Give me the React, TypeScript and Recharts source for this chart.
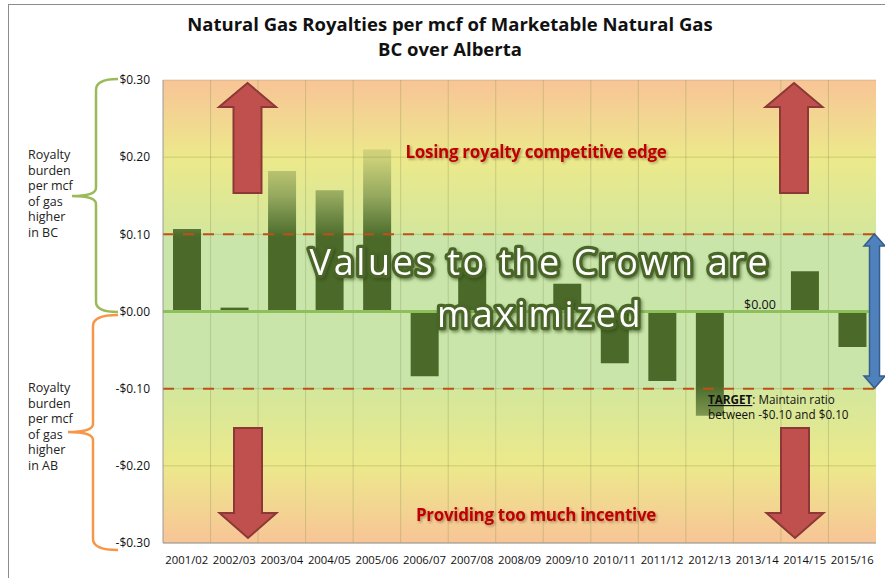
import React from 'react';
import {
  BarChart,
  Bar,
  XAxis,
  YAxis,
  CartesianGrid,
  ReferenceLine,
} from 'recharts';

const categories = [
  '2001/02', '2002/03', '2003/04', '2004/05', '2005/06', '2006/07', '2007/08', '2008/09',
  '2009/10', '2010/11', '2011/12', '2012/13', '2013/14', '2014/15', '2015/16',
];
const royaltyDiff = [
  0.107, 0.005, 0.182, 0.157, 0.21, -0.084, 0.057, 0, 0.036, -0.067, -0.09, -0.135, 0, 0.052, -0.046,
];
const yTicks = [-0.3, -0.2, -0.1, 0, 0.1, 0.2, 0.3];
const targetBand = [-0.1, 0.1];

const titleLines = ['Natural Gas Royalties per mcf of Marketable Natural Gas', 'BC over Alberta'];
const bcNote = ['Royalty', 'burden', 'per mcf', 'of gas', 'higher', 'in BC'];
const abNote = ['Royalty', 'burden', 'per mcf', 'of gas', 'higher', 'in AB'];

const data = categories.map((c, i) => ({ year: c, value: royaltyDiff[i] }));

const W = 885;
const H = 578;
const PLOT_TOP = 80;
const PLOT_BOTTOM = 543;
const FONT = '"Open Sans", "Noto Sans", sans-serif';

const fmt = (v: number) => (v < 0 ? '-$' : '$') + Math.abs(v).toFixed(2);

const upArrow = (cx: number, tip: number, headBase: number, bottom: number, hw: number, sw: number) =>
  `${cx},${tip} ${cx + hw},${headBase} ${cx + sw},${headBase} ${cx + sw},${bottom} ${cx - sw},${bottom} ${cx - sw},${headBase} ${cx - hw},${headBase}`;
const downArrow = (cx: number, top: number, headBase: number, tip: number, hw: number, sw: number) =>
  `${cx - sw},${top} ${cx + sw},${top} ${cx + sw},${headBase} ${cx + hw},${headBase} ${cx},${tip} ${cx - hw},${headBase} ${cx - sw},${headBase}`;

const Overlay = () => (
  <svg
    width={W}
    height={H}
    style={{ position: 'absolute', left: 0, top: 0, pointerEvents: 'none' }}
  >
    <defs>
      <filter id="redShadow" x="-10%" y="-40%" width="120%" height="180%">
        <feDropShadow dx="1.5" dy="1.5" stdDeviation="0.8" floodColor="#3c2814" floodOpacity="0.4" />
      </filter>
      <filter id="greenShadow" x="-10%" y="-30%" width="120%" height="160%">
        <feDropShadow dx="1.5" dy="2" stdDeviation="1.5" floodColor="#283c14" floodOpacity="0.55" />
      </filter>
    </defs>

    {/* frame */}
    <line x1={8.5} y1={4} x2={8.5} y2={H} stroke="#8c8c8c" strokeWidth={1} />
    <line x1={8} y1={4.5} x2={W} y2={4.5} stroke="#8c8c8c" strokeWidth={1} />

    {/* title */}
    {titleLines.map((t, i) => (
      <text key={t} x={450} y={31 + i * 25} textAnchor="middle" fontFamily={FONT} fontWeight={700} fontSize={18.5} fill="#111">
        {t}
      </text>
    ))}

    {/* braces */}
    <path
      d="M118,79 Q96,79 96,90 L96,188 Q96,196 72,196 Q96,196 96,204 L96,302 Q96,312 118,312"
      fill="none"
      stroke="#9bbb59"
      strokeWidth={2.5}
    />
    <path
      d="M118,315 Q93,315 93,326 L93,424 Q93,432 68,432 Q93,432 93,440 L93,539 Q93,550 118,550"
      fill="none"
      stroke="#f79646"
      strokeWidth={2.5}
    />
    {bcNote.map((t, i) => (
      <text key={'bc' + i} x={28} y={159 + i * 15.5} fontFamily={FONT} fontSize={12.5} fill="#222">
        {t}
      </text>
    ))}
    {abNote.map((t, i) => (
      <text key={'ab' + i} x={28} y={392 + i * 15.5} fontFamily={FONT} fontSize={12.5} fill="#222">
        {t}
      </text>
    ))}

    {/* red arrows */}
    <g fill="#c0504d" stroke="#8c3836" strokeWidth={2} strokeLinejoin="miter">
      <polygon points={upArrow(247.5, 83, 107, 193, 28.5, 14)} />
      <polygon points={upArrow(794, 83, 107, 193, 28.5, 14)} />
      <polygon points={downArrow(248, 428, 513, 538, 28.5, 14)} />
      <polygon points={downArrow(795, 428, 513, 538, 28.5, 14)} />
    </g>

    {/* blue double arrow */}
    <polygon
      points="874.5,234 885,246 879.5,246 879.5,376 885,376 874.5,388 864,376 869.5,376 869.5,246 864,246"
      fill="#4f81bd"
      stroke="#385d8a"
      strokeWidth={1.5}
    />

    {/* red captions */}
    {[
      { t: 'Losing royalty competitive edge', y: 158 },
      { t: 'Providing too much incentive', y: 521 },
    ].map((c) => (
      <text
        key={c.t}
        x={536}
        y={c.y}
        fontFamily={FONT}
        fontWeight={700}
        fontSize={17}
        textAnchor="middle"
        letterSpacing={-0.3}
        fill="#c00000"
        filter="url(#redShadow)"
      >
        {c.t}
      </text>
    ))}

    {/* big outlined text */}
    {[
      { t: 'Values to the Crown are', y: 275 },
      { t: 'maximized', y: 327 },
    ].map((c) => (
      <text
        key={c.t}
        x={540}
        y={c.y}
        fontFamily={FONT}
        fontSize={36}
        textAnchor="middle"
        letterSpacing={2.6}
        fill="#ffffff"
        stroke="#4a6628"
        strokeWidth={6.5}
        strokeLinejoin="round"
        style={{ paintOrder: 'stroke' }}
        filter="url(#greenShadow)"
      >
        {c.t}
      </text>
    ))}

    {/* $0.00 label */}
    <text x={744} y={309} fontFamily={FONT} fontSize={12.5} fill="#111">$0.00</text>

    {/* target note */}
    <text x={708} y={404} fontFamily={FONT} fontSize={11.7} fill="#111">
      <tspan fontWeight={700} textDecoration="underline">TARGET</tspan>
      <tspan>: Maintain ratio</tspan>
    </text>
    <text x={708} y={419} fontFamily={FONT} fontSize={11.7} fill="#111">between -$0.10 and $0.10</text>
  </svg>
);

export default function App() {
  return (
    <div style={{ position: 'absolute', left: 0, top: 0, width: W, height: H, background: '#fff' }}>
      <BarChart
        width={W}
        height={H}
        data={data}
        margin={{ top: PLOT_TOP, right: 9, bottom: 5, left: 103 }}
        barSize={28}
      >
        <defs>
          <linearGradient id="bgGrad" x1="0" y1="0" x2="0" y2="1">
            <stop offset="0" stopColor="#f8c497" />
            <stop offset="0.17" stopColor="#ece98b" />
            <stop offset="0.333" stopColor="#d3e79c" />
            <stop offset="0.333" stopColor="#c9e5aa" />
            <stop offset="0.667" stopColor="#c9e5aa" />
            <stop offset="0.667" stopColor="#d3e79c" />
            <stop offset="0.83" stopColor="#ece98b" />
            <stop offset="1" stopColor="#f8c497" />
          </linearGradient>
          <linearGradient
            id="barGrad"
            gradientUnits="userSpaceOnUse"
            x1="0"
            y1={PLOT_TOP}
            x2="0"
            y2={PLOT_BOTTOM}
          >
            <stop offset="0.05" stopColor="#4b6a29" stopOpacity={0.05} />
            <stop offset="0.17" stopColor="#4b6a29" stopOpacity={0.2} />
            <stop offset="0.25" stopColor="#4b6a29" stopOpacity={0.5} />
            <stop offset="0.34" stopColor="#4b6a29" stopOpacity={1} />
            <stop offset="0.66" stopColor="#4b6a29" stopOpacity={1} />
            <stop offset="0.75" stopColor="#4b6a29" stopOpacity={0.5} />
            <stop offset="0.83" stopColor="#4b6a29" stopOpacity={0.2} />
            <stop offset="0.95" stopColor="#4b6a29" stopOpacity={0.05} />
          </linearGradient>
        </defs>
        <CartesianGrid
          fill="url(#bgGrad)"
          fillOpacity={1}
          stroke="rgba(140,150,90,0.35)"
          verticalCoordinatesGenerator={({ offset }: any) =>
            categories.slice(1).map((_, i) => offset.left + ((i + 1) * offset.width) / categories.length)
          }
        />
        <XAxis
          dataKey="year"
          tickLine={false}
          axisLine={{ stroke: '#9a9a9a' }}
          tick={{ fontFamily: FONT, fontSize: 11.3, fill: '#111' }}
          tickSize={6}
          tickMargin={7}
          interval={0}
          height={30}
        />
        <YAxis
          domain={[-0.3, 0.3]}
          ticks={yTicks}
          tickFormatter={fmt}
          tickLine={false}
          axisLine={{ stroke: '#9a9a9a' }}
          tick={{ fontFamily: FONT, fontSize: 12, fill: '#111' }}
          tickSize={6}
          tickMargin={7}
          width={60}
          allowDataOverflow
        />
        <Bar dataKey="value" fill="url(#barGrad)" isAnimationActive={false} />
        <ReferenceLine y={0} stroke="#8dbf5b" strokeWidth={3} />
        {targetBand.map((v) => (
          <ReferenceLine key={v} y={v} stroke="#c0501a" strokeWidth={2} strokeDasharray="11 9" />
        ))}
      </BarChart>
      <Overlay />
    </div>
  );
}
